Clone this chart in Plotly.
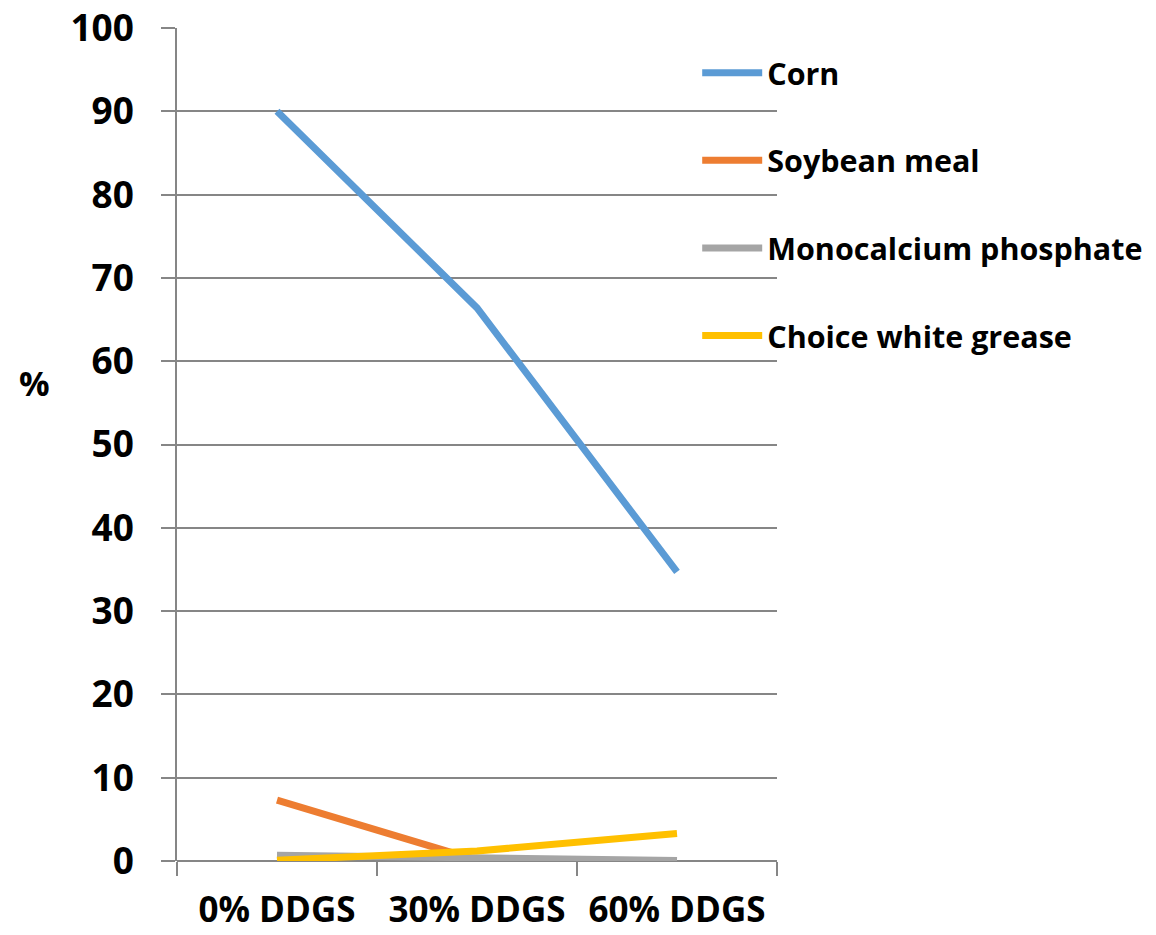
import plotly.graph_objects as go

categories = ["0% DDGS", "30% DDGS", "60% DDGS"]
corn = [90.0, 66.4, 34.7]
soybean_meal = [7.3, 0.1, 0.0]
monocalcium_phosphate = [0.7, 0.4, 0.05]
choice_white_grease = [0.1, 1.2, 3.3]
y_ticks = [0, 10, 20, 30, 40, 50, 60, 70, 80, 90, 100]

series = [
    ("Corn", corn, "#5B9BD5"),
    ("Soybean meal", soybean_meal, "#ED7D31"),
    ("Monocalcium phosphate", monocalcium_phosphate, "#A5A5A5"),
    ("Choice white grease", choice_white_grease, "#FFC000"),
]

FONT = "Open Sans"
fig = go.Figure()
for i, (name, vals, color) in enumerate(series):
    fig.add_trace(go.Scatter(
        x=categories, y=vals, name=name, mode="lines",
        line=dict(color=color, width=7),
        legendgroup=f"g{i}",
    ))

# the page body adds an 8px offset, so the figure is sized to fit the window
fig.update_layout(
    width=1148, height=927,
    paper_bgcolor="white", plot_bgcolor="white",
    margin=dict(l=169, r=379, t=20, b=74, autoexpand=False),
    font=dict(family=FONT, size=30, color="black", weight="bold"),
    showlegend=True,
    legend=dict(
        x=0.867, xanchor="left", y=0.978, yanchor="top",
        bgcolor="rgba(0,0,0,0)", itemwidth=60,
        traceorder="grouped", tracegroupgap=45,
        font=dict(family=FONT, size=30.5, color="black", weight="bold"),
    ),
    xaxis=dict(
        type="category", range=[-0.5, 2.5], automargin=False,
        showgrid=False, showline=False, zeroline=False,
        ticks="outside", tickson="boundaries", ticklen=14,
        tickcolor="#868686", tickwidth=1.5,
        ticklabelstandoff=25, ticklabeloverflow="allow",
        tickfont=dict(family=FONT, size=35, color="black", weight="bold"),
    ),
    yaxis=dict(
        range=[0, 100], tickvals=y_ticks, automargin=False,
        showgrid=True, gridcolor="#868686", gridwidth=1.5,
        showline=True, linecolor="#868686", linewidth=1.5,
        zeroline=True, zerolinecolor="#868686", zerolinewidth=1.5,
        ticks="outside", ticklen=14, tickcolor="#868686", tickwidth=1.5,
        ticklabelstandoff=20, ticklabeloverflow="allow",
        tickfont=dict(family=FONT, size=37, color="black", weight="bold"),
    ),
    annotations=[dict(
        text="%", xref="paper", yref="y", x=-0.237, y=57.4,
        xanchor="center", yanchor="middle", showarrow=False,
        font=dict(family=FONT, size=34, color="black", weight="bold"),
    )],
)

fig.write_html("out.html")
